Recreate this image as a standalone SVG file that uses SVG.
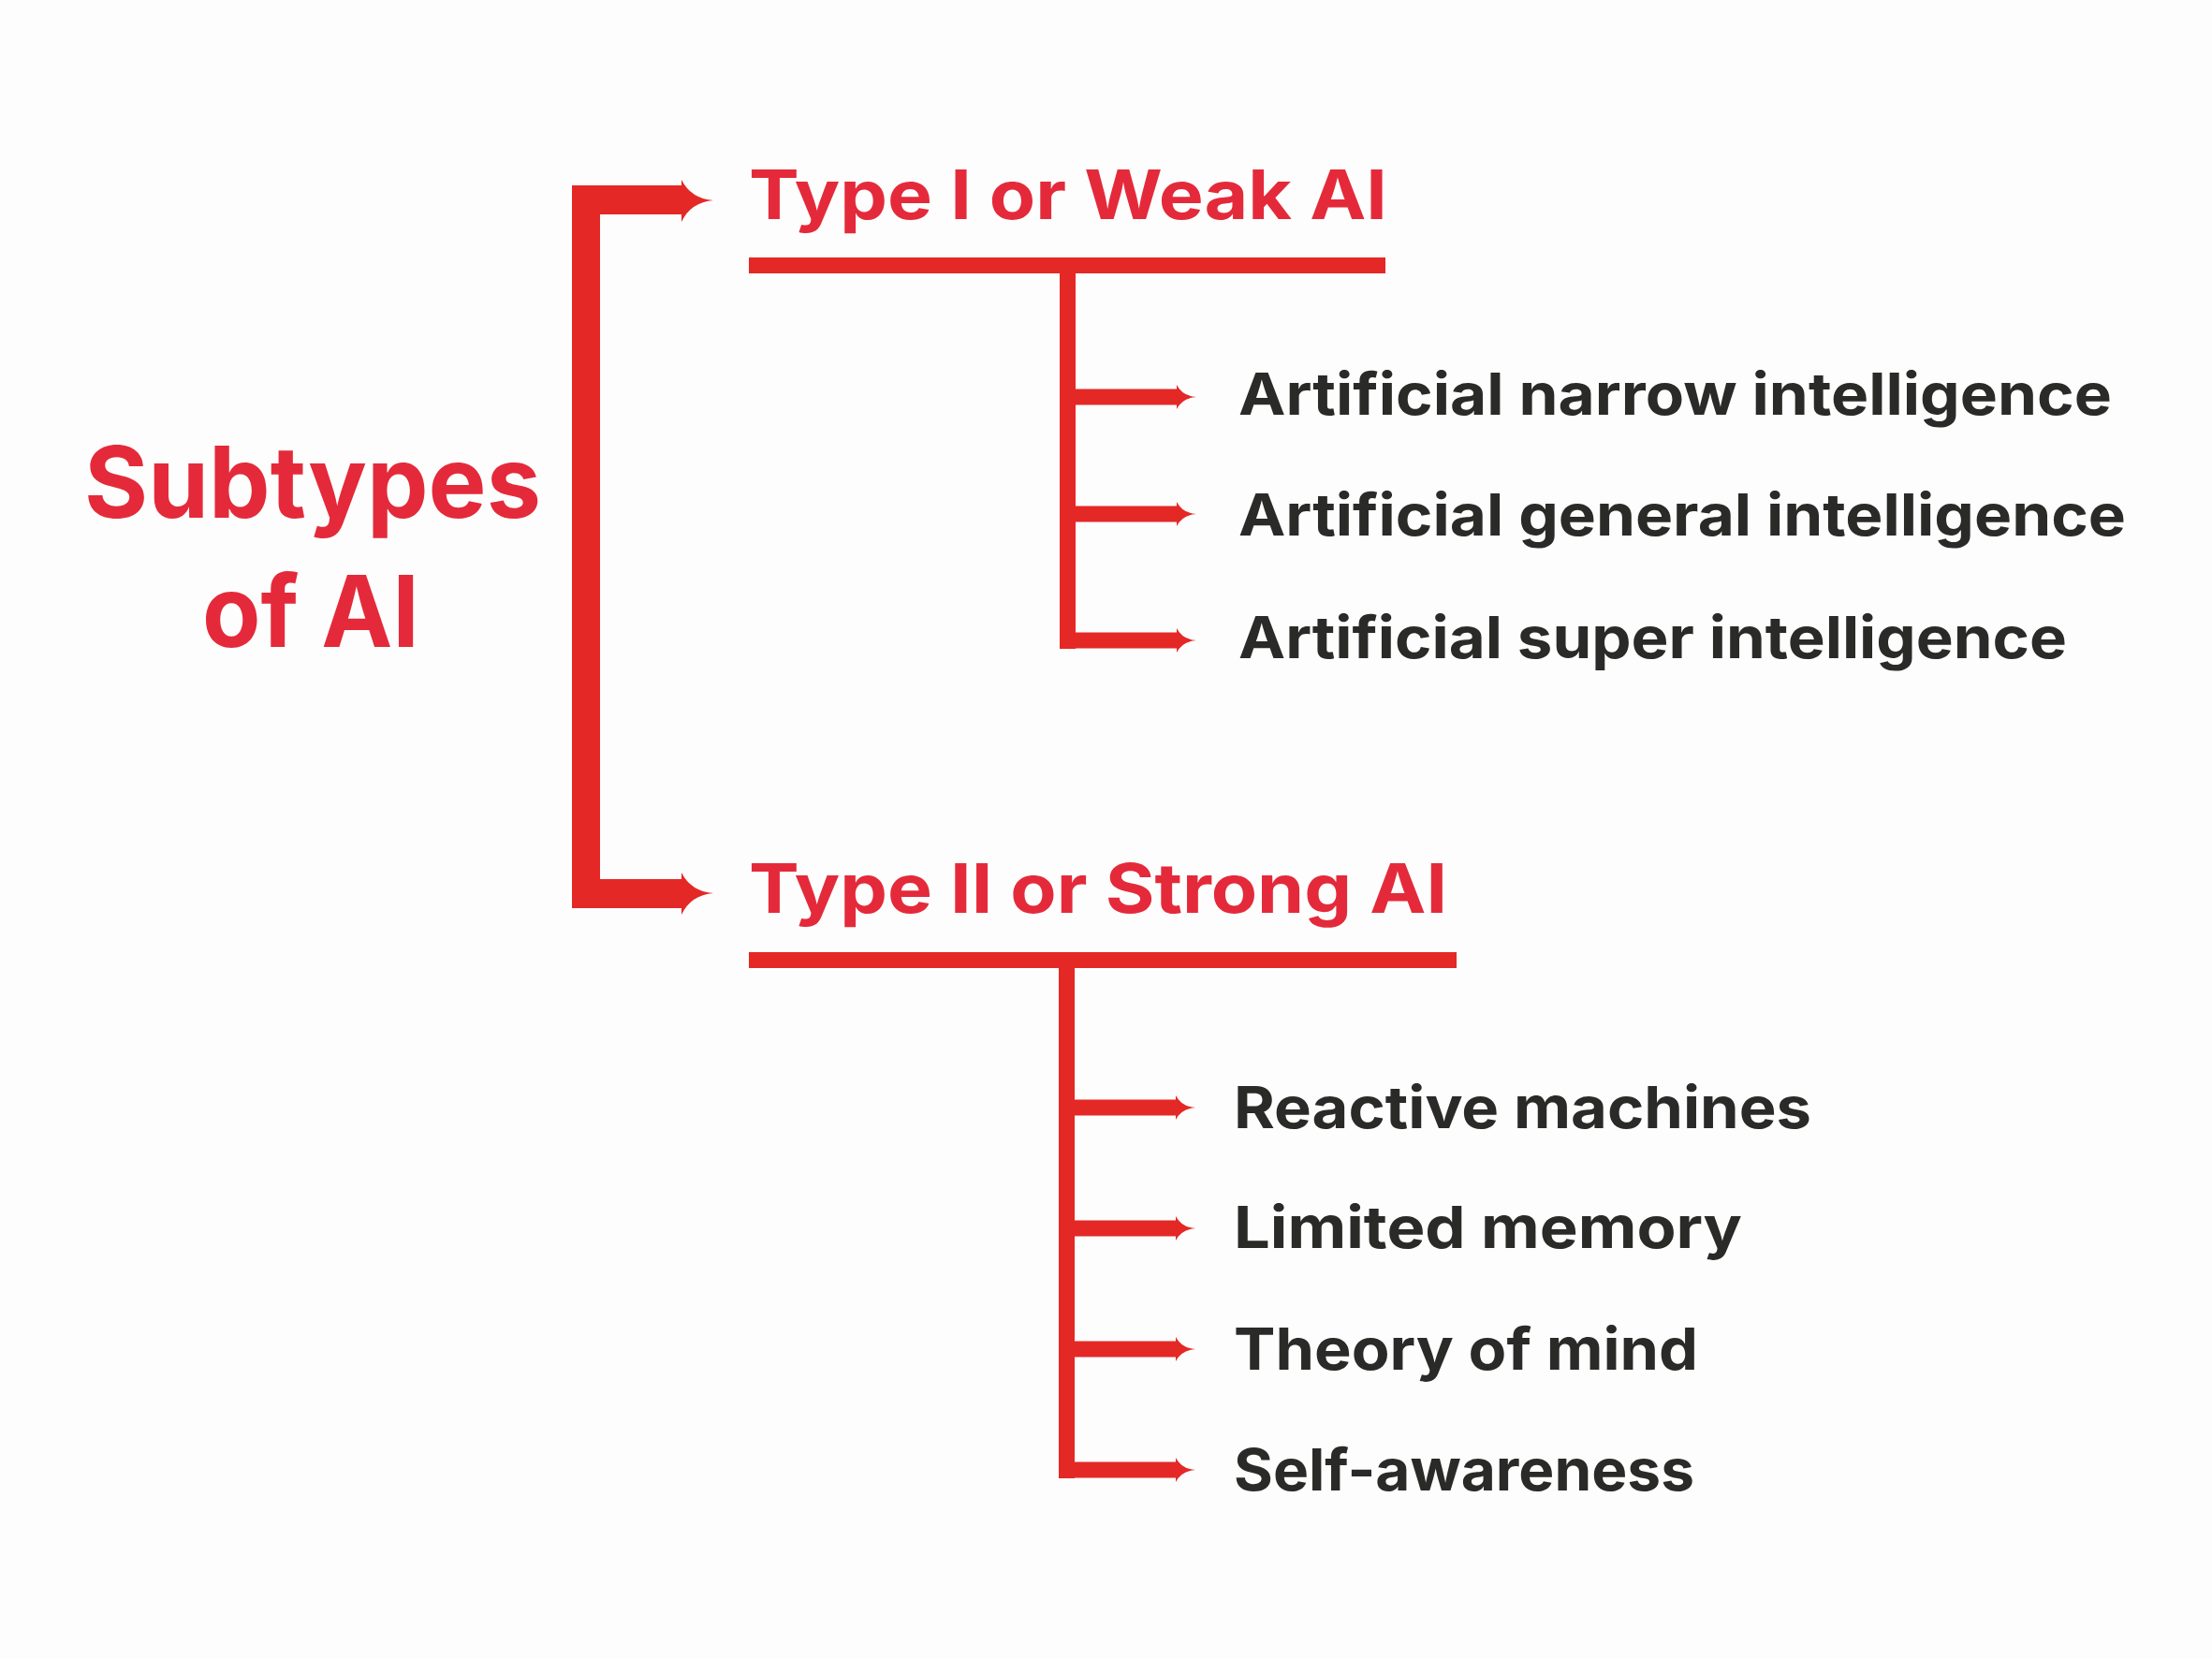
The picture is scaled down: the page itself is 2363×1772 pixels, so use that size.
<svg xmlns="http://www.w3.org/2000/svg" width="2363" height="1772" viewBox="0 0 2363 1772">
  <style>
    .title { font-family: Inter, "Open Sans", "Liberation Sans", sans-serif; font-weight: 700; fill: #E42A3A; }
    .item { font-family: Inter, "Open Sans", "Liberation Sans", sans-serif; font-weight: 700; fill: #2A2A28; font-size: 62px; }
    .bar { fill: #E42826; }
  </style>
  <defs>
    <path id="smallArrow" class="bar" d="M0,-8.5 L117,-8.5 L117,-13 Q123,-1 138,0 Q123,1 117,13 L117,8.5 L0,8.5 Z"/>
  </defs>
  <rect width="2363" height="1772" fill="#FDFDFD"/>

  <g id="connectors">
    <!-- main bracket -->
    <path class="bar" d="M611,198 L728,198 L728,192 Q738,212 762,214 Q738,216 728,237 L728,229 L641,229 L641,939 L728,939 L728,932 Q738,952 762,954 Q738,956 728,977 L728,970 L611,970 Z"/>
    <!-- Type I underline and stem -->
    <rect class="bar" x="800" y="275" width="680" height="17"/>
    <rect class="bar" x="1132" y="275" width="17" height="418"/>
    <use href="#smallArrow" x="1140" y="424"/>
    <use href="#smallArrow" x="1140" y="549"/>
    <use href="#smallArrow" x="1140" y="684"/>
    <!-- Type II underline and stem -->
    <rect class="bar" x="800" y="1017" width="756" height="17"/>
    <rect class="bar" x="1131" y="1017" width="17" height="562"/>
    <use href="#smallArrow" x="1139" y="1183"/>
    <use href="#smallArrow" x="1139" y="1312"/>
    <use href="#smallArrow" x="1139" y="1441"/>
    <use href="#smallArrow" x="1139" y="1570"/>
  </g>

  <g id="root">
    <text class="title" x="334" y="553" font-size="106" text-anchor="middle" textLength="488" lengthAdjust="spacingAndGlyphs">Subtypes</text>
    <text class="title" x="332" y="691" font-size="106" text-anchor="middle" textLength="232" lengthAdjust="spacingAndGlyphs">of AI</text>
  </g>

  <g id="type1">
    <text class="title" x="800" y="234" font-size="73" textLength="682" lengthAdjust="spacingAndGlyphs">Type I or Weak AI</text>
  </g>
  <g id="type2">
    <text class="title" x="800" y="975" font-size="73" textLength="746" lengthAdjust="spacingAndGlyphs">Type II or Strong AI</text>
  </g>

  <g id="ani"><text class="item" x="1323" y="443" textLength="933" lengthAdjust="spacingAndGlyphs">Artificial narrow intelligence</text></g>
  <g id="agi"><text class="item" x="1323" y="572" textLength="948" lengthAdjust="spacingAndGlyphs">Artificial general intelligence</text></g>
  <g id="asi"><text class="item" x="1323" y="703" textLength="885" lengthAdjust="spacingAndGlyphs">Artificial super intelligence</text></g>

  <g id="reactive"><text class="item" x="1318" y="1205" textLength="617" lengthAdjust="spacingAndGlyphs">Reactive machines</text></g>
  <g id="limited"><text class="item" x="1318" y="1333" textLength="543" lengthAdjust="spacingAndGlyphs">Limited memory</text></g>
  <g id="theory"><text class="item" x="1318" y="1463" textLength="496" lengthAdjust="spacingAndGlyphs">Theory of mind</text></g>
  <g id="selfaware"><text class="item" x="1318" y="1592" textLength="492" lengthAdjust="spacingAndGlyphs">Self-awareness</text></g>
</svg>
